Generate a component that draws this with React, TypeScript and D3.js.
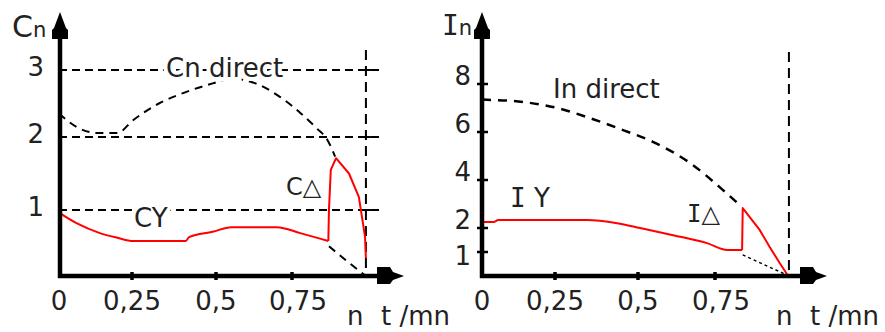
import * as d3 from "d3";

// shared abscissa: n / ns
const X_TICKS = [0, 0.25, 0.5, 0.75];
const X_TICK_LABELS = ["0", "0,25", "0,5", "0,75"];
const SYNC = 0.99;

// torque panel (left)
const C_TICKS = [1, 2, 3];
const C_DIRECT: [number, number][] = [
  [0, 2.35], [0.06, 2.15], [0.13, 2.06], [0.2, 2.06], [0.253, 2.25], [0.33, 2.5],
  [0.41, 2.67], [0.49, 2.8], [0.55, 2.87], [0.63, 2.8], [0.71, 2.6], [0.777, 2.36],
  [0.83, 2.13], [0.865, 1.96], [0.89, 1.73],
];
const C_Y: [number, number][] = [
  [0, 0.96], [0.06, 0.8], [0.14, 0.65], [0.2, 0.58], [0.253, 0.53], [0.41, 0.53],
  [0.42, 0.59], [0.49, 0.67], [0.55, 0.74], [0.7, 0.74], [0.777, 0.65], [0.868, 0.53],
];
const C_Y_REST: [number, number][] = [[0.87, 0.45], [0.935, 0.2], [SYNC, 0]];
const C_DELTA: [number, number][] = [
  [0.868, 0.53], [0.87, 1.0], [0.876, 1.55], [0.893, 1.71], [0.935, 1.5],
  [0.967, 1.18], [0.987, 0.6], [0.99, 0.27],
];

// current panel (right)
const I_TICKS = [1, 2, 4, 6, 8];
const I_DIRECT: [number, number][] = [
  [0, 7.35], [0.14, 7.25], [0.257, 7.0], [0.355, 6.58], [0.455, 6.08], [0.55, 5.58],
  [0.67, 4.7], [0.776, 3.58], [0.837, 2.88],
];
const I_Y: [number, number][] = [
  [0, 2.25], [0.04, 2.25], [0.055, 2.33], [0.346, 2.33], [0.437, 2.2], [0.507, 2.0],
  [0.614, 1.7], [0.724, 1.37], [0.79, 1.08], [0.838, 1.08],
];
const I_Y_REST: [number, number][] = [[0.84, 0.88], [0.97, 0.12], [0.985, 0]];
const I_DELTA: [number, number][] = [
  [0.838, 1.08], [0.84, 2.83], [0.895, 1.92], [0.928, 1.2], [0.96, 0.54], [0.985, 0.05],
];

const FONT = "DejaVu Sans, Verdana, sans-serif";
const MONO = "DejaVu Sans Mono, monospace";
const RED = "#ff0000";
const INK = "#222";

type Pt = [number, number];

function Axes({ x0, y0, xEnd, yTop }: { x0: number; y0: number; xEnd: number; yTop: number }) {
  const ya = `M${x0},${yTop} L${x0 + 6},${yTop + 16} L${x0 + 8},${yTop + 18} L${x0 + 8},${yTop + 27} L${x0 - 8},${yTop + 27} L${x0 - 8},${yTop + 18} L${x0 - 6},${yTop + 16} Z`;
  const xa = `M${xEnd},${y0} L${xEnd - 11},${y0 - 4} L${xEnd - 14},${y0 - 9} L${xEnd - 27},${y0 - 9} L${xEnd - 27},${y0 + 8} L${xEnd - 14},${y0 + 8} L${xEnd - 11},${y0 + 4} Z`;
  return (
    <g>
      <line x1={x0} y1={y0 + 2} x2={x0} y2={yTop + 20} stroke="#000" strokeWidth={4.5} />
      <line x1={x0 - 2} y1={y0} x2={xEnd - 20} y2={y0} stroke="#000" strokeWidth={4.5} />
      <path d={ya} fill="#000" />
      <path d={xa} fill="#000" />
    </g>
  );
}

function XLabels({ x, y0, unitX }: { x: d3.ScaleLinear<number, number>; y0: number; unitX: number }) {
  return (
    <g fontFamily={FONT} fontSize={26} fill={INK}>
      {X_TICKS.map((t, i) => (
        <g key={t}>
          {t > 0 && <line x1={x(t)} x2={x(t)} y1={y0 - 4} y2={y0 + 4} stroke="#000" strokeWidth={3.5} />}
          <text x={x(t) + (t === 0.75 ? 6 : 0)} y={y0 + 34} textAnchor="middle">{X_TICK_LABELS[i]}</text>
        </g>
      ))}
      <text x={unitX} y={y0 + 49}>n</text>
      <text x={unitX + 34} y={y0 + 49}>t /mn</text>
    </g>
  );
}

export default function App() {
  // left panel scales
  const xL = d3.scaleLinear().domain([0, 0.25, 0.5, 0.75, 1]).range([59, 132, 216, 292, 369]);
  const yL = d3.scaleLinear().domain([0, 1, 2, 3]).range([276, 210, 137, 70]);
  // right panel scales
  const xR = d3.scaleLinear().domain([0, 0.25, 0.5, 0.75, 1]).range([482, 555, 638, 715, 792]);
  const yR = d3.scaleLinear().domain([0, 8]).range([276, 84]);

  const lineL = d3.line<Pt>().x((d) => xL(d[0])).y((d) => yL(d[1]));
  const smoothL = d3.line<Pt>().x((d) => xL(d[0])).y((d) => yL(d[1])).curve(d3.curveMonotoneX);
  const lineR = d3.line<Pt>().x((d) => xR(d[0])).y((d) => yR(d[1]));
  const smoothR = d3.line<Pt>().x((d) => xR(d[0])).y((d) => yR(d[1])).curve(d3.curveMonotoneX);

  const halo = { stroke: "#fff", strokeWidth: 8, paintOrder: "stroke" as const };

  return (
    <svg width={885} height={332} style={{ position: "absolute", left: 0, top: 0, background: "#fff" }}>
      {/* ===== left: torque ===== */}
      {C_TICKS.map((t) => (
        <g key={t}>
          <line x1={xL(0)} x2={xL(1.035)} y1={yL(t)} y2={yL(t)} stroke="#000" strokeWidth={2} strokeDasharray="8 5" />
          <line x1={xL(0)} x2={xL(0) + 8} y1={yL(t)} y2={yL(t)} stroke="#000" strokeWidth={2} />
          <line x1={xL(SYNC) - 5} x2={xL(SYNC) + 5} y1={yL(t)} y2={yL(t)} stroke="#000" strokeWidth={2} />
          <text x={44} y={yL(t) + 6} textAnchor="end" fontFamily={FONT} fontSize={26} fill={INK}>{t}</text>
        </g>
      ))}
      <line x1={xL(SYNC)} x2={xL(SYNC)} y1={yL(3.3)} y2={yL(0)} stroke="#000" strokeWidth={2} strokeDasharray="10 6" />
      <path d={smoothL(C_DIRECT) ?? ""} fill="none" stroke="#000" strokeWidth={2} strokeDasharray="8 6" />
      <path d={lineL(C_Y_REST) ?? ""} fill="none" stroke="#000" strokeWidth={2} strokeDasharray="8 6" />
      <text x={166} y={77} fontFamily={FONT} fontSize={26} fill={INK} {...halo}>Cn direct</text>
      <text x={134} y={227} fontFamily={FONT} fontSize={26} fill={INK} {...halo}>CY</text>
      <path d={smoothL(C_Y) ?? ""} fill="none" stroke={RED} strokeWidth={2} />
      <path d={lineL(C_DELTA) ?? ""} fill="none" stroke={RED} strokeWidth={2} strokeLinejoin="round" />
      <text x={286} y={195} fontFamily={FONT} fontSize={24} fill={INK}>C△</text>
      <Axes x0={60} y0={276} xEnd={404} yTop={12} />
      <text x={12} y={37} fontFamily={FONT} fill={INK}>
        <tspan fontSize={30}>C</tspan>
        <tspan fontSize={21}>n</tspan>
      </text>
      <XLabels x={xL} y0={276} unitX={347} />

      {/* ===== right: current ===== */}
      {I_TICKS.map((t) => (
        <g key={t}>
          <line x1={xR(0) - 5} x2={xR(0) + 6} y1={yR(t)} y2={yR(t)} stroke="#000" strokeWidth={2.5} />
          <text x={471} y={yR(t) + (t === 1 ? 13 : 1)} textAnchor="end" fontFamily={FONT} fontSize={26} fill={INK}>{t}</text>
        </g>
      ))}
      <line x1={xR(SYNC)} x2={xR(SYNC)} y1={yR(9.33)} y2={yR(0)} stroke="#000" strokeWidth={2} strokeDasharray="10 6" />
      <path d={smoothR(I_DIRECT) ?? ""} fill="none" stroke="#000" strokeWidth={2.5} strokeDasharray="9 7" />
      <path d={lineR(I_Y_REST) ?? ""} fill="none" stroke="#000" strokeWidth={1.5} strokeDasharray="3 3" />
      <path d={smoothR(I_Y) ?? ""} fill="none" stroke={RED} strokeWidth={2} />
      <path d={lineR(I_DELTA) ?? ""} fill="none" stroke={RED} strokeWidth={2} strokeLinejoin="round" />
      <text x={553} y={98} fontFamily={FONT} fontSize={26} fill={INK}>In direct</text>
      <text x={510} y={207} fontFamily={FONT} fontSize={26} fill={INK}>
        <tspan fontFamily={MONO}>I</tspan> Y
      </text>
      <text x={687} y={222} fontFamily={FONT} fontSize={24} fill={INK}>
        <tspan fontFamily={MONO}>I</tspan>△
      </text>
      <Axes x0={482} y0={276} xEnd={827} yTop={12} />
      <text x={442} y={35} fontFamily={FONT} fill={INK}>
        <tspan fontFamily={MONO} fontSize={28}>I</tspan>
        <tspan fontSize={21}>n</tspan>
      </text>
      <XLabels x={xR} y0={276} unitX={776} />
    </svg>
  );
}
